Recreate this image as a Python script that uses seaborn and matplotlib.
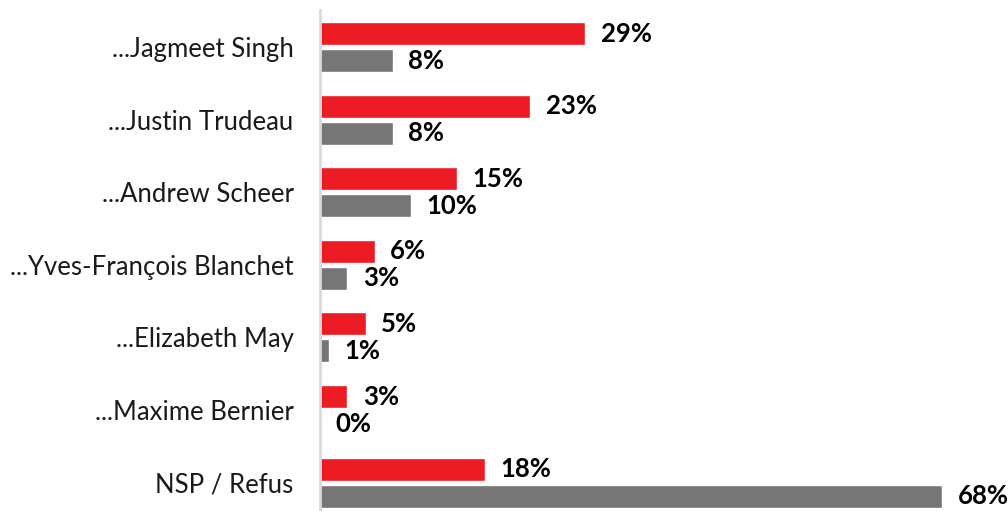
import pandas as pd
import matplotlib
matplotlib.use('Agg')
import matplotlib.pyplot as plt
import seaborn as sns

# Data
leaders = ["...Jagmeet Singh", "...Justin Trudeau", "...Andrew Scheer",
           "...Yves-François Blanchet", "...Elizabeth May", "...Maxime Bernier",
           "NSP / Refus"]
series_a = [29, 23, 15, 6, 5, 3, 18]
series_b = [8, 8, 10, 3, 1, 0, 68]
series_names = ["A", "B"]
colors = ["#ED1C24", "#767676"]

df = pd.DataFrame({
    "leader": leaders * 2,
    "pct": series_a + series_b,
    "series": [series_names[0]] * len(leaders) + [series_names[1]] * len(leaders),
})

sns.set_style("white")
plt.rcParams['font.family'] = ['Lato', 'DejaVu Sans']

fig = plt.figure(figsize=(10.08, 5.11), dpi=100)
ax = fig.add_axes([320 / 1008, 0, 1 - 320 / 1008, 1 - 10 / 511])

sns.barplot(data=df, y="leader", x="pct", hue="series", order=leaders,
            hue_order=series_names, palette=colors, orient="h",
            width=0.744, gap=0.15, legend=False, ax=ax, saturation=1)

# Value labels
for container in ax.containers:
    ax.bar_label(container, labels=[f"{int(v)}%" for v in container.datavalues],
                 padding=11, fontsize=18.5, fontweight='bold', color='black')

ax.set_xlim(0, 75.2)
ax.set_ylim(6.39, -0.51)
ax.set_xlabel("")
ax.set_ylabel("")
ax.set_xticks([])
ax.tick_params(axis='y', length=0, pad=19, labelsize=18.5, labelcolor='#1a1a1a')
for side in ["top", "right", "bottom"]:
    ax.spines[side].set_visible(False)
ax.spines["left"].set_color("#D9D9D9")
ax.spines["left"].set_linewidth(2)

fig.savefig("out.png", dpi=100)
plt.close(fig)
